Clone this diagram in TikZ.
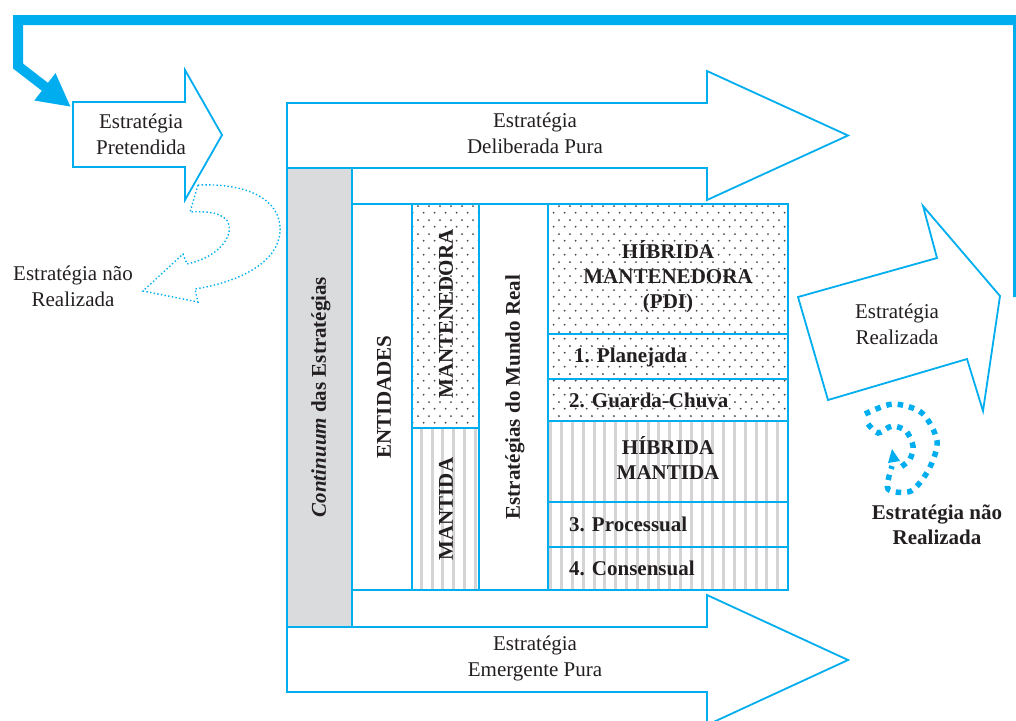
\documentclass[tikz,border=0pt]{standalone}
\usepackage{fontspec}
\setmainfont{Liberation Serif}
\usetikzlibrary{arrows.meta, patterns, patterns.meta}
\definecolor{processcyan}{RGB}{0,174,239}
\definecolor{inkblack}{RGB}{35,31,32}
\definecolor{boxgray}{RGB}{218,219,221}
\definecolor{dotgray}{RGB}{70,70,70}
\definecolor{stripegray}{RGB}{212,212,212}
\pgfdeclarepatternformonly{sparsedots}{\pgfpointorigin}{\pgfpoint{10.8pt}{14pt}}{\pgfpoint{10.8pt}{14pt}}{%
    \pgfpathcircle{\pgfpoint{2.7pt}{3.5pt}}{1.05pt}%
    \pgfpathcircle{\pgfpoint{8.1pt}{10.5pt}}{1.05pt}%
    \pgfusepath{fill}}
\tikzset{
    bigarrow/.style={draw=processcyan, line width=1.8pt, fill=white},
    cell/.style={draw=processcyan, line width=1.8pt},
    dotcell/.style={cell, pattern=sparsedots, pattern color=dotgray},
    stripecell/.style={cell, pattern={Lines[angle=90, distance=10.8pt, line width=3pt]}, pattern color=stripegray},
    feedback/.style={draw=processcyan, line width=10pt, -{Triangle[length=33pt, width=32pt]}},
    lostoutline/.style={draw=processcyan, line width=1.4pt, dash pattern=on 1.4pt off 2.3pt},
    lostcurl/.style={draw=processcyan, line width=5.5pt, dash pattern=on 5.5pt off 6pt},
    lbl/.style={align=center, inner sep=0pt, text=inkblack, font=\fontsize{21}{26}\selectfont},
    blbl/.style={lbl, font=\fontsize{21}{25}\selectfont\bfseries},
}

\begin{document}
\begin{tikzpicture}[x=1pt, y=-1pt, line join=miter]
\useasboundingbox (0,0) rectangle (1016,720);

\draw[bigarrow] (287,627) -- (707,627) -- (707,595) -- (848,660) -- (707,725) -- (707,692) -- (287,692) -- cycle;
\draw[bigarrow] (287,103) -- (707,103) -- (707,71) -- (848,135.5) -- (707,200) -- (707,168) -- (287,168) -- cycle;

\draw[cell, fill=boxgray] (287,168) rectangle (352,627);
\draw[cell] (352,204) rectangle (412,590);
\draw[dotcell] (412,204) rectangle (479,428);
\draw[stripecell] (412,428) rectangle (479,590);
\draw[cell] (479,204) rectangle (548,590);
\draw[dotcell] (548,204) rectangle (788,334);
\draw[dotcell] (548,334) rectangle (788,379);
\draw[dotcell] (548,379) rectangle (788,421);
\draw[stripecell] (548,421) rectangle (788,502);
\draw[stripecell] (548,502) rectangle (788,547);
\draw[stripecell] (548,547) rectangle (788,590);

\draw[bigarrow] (798,297) -- (937,258) -- (923,206) -- (1000,296) -- (983,411) -- (967,359) -- (828,400) -- cycle;

\draw[feedback] (1018,297) -- (1018,20) -- (18,20) -- (18,66) -- (71,107);
\draw[bigarrow] (73,102) -- (185,102) -- (185,70) -- (222,135) -- (185,200) -- (185,167) -- (73,167) -- cycle;

\draw[lostoutline] (198,185) .. controls (245,183) and (282,198) .. (280,232) .. controls (278,262) and (240,282) .. (195,289) -- (198,302) -- (143,291) -- (183,254) -- (187,264) .. controls (215,258) and (232,240) .. (229,225) .. controls (226,212) and (205,211) .. (190,212) -- cycle;

\draw[lostcurl] plot[smooth] coordinates {(865,414) (893,404) (922,413) (937,441) (929,469) (911,491) (888,489) (892,466)};
\draw[lostcurl] plot[smooth] coordinates {(868,424) (878,433) (892,426) (906,431) (913,446) (910,459) (901,467)};
\fill[processcyan] (892,449) -- (900,461) -- (888,463) -- cycle;

\node[lbl] (pretendida) at (141,134) {Estratégia\\Pretendida};
\node[lbl] (deliberada) at (535,133) {Estratégia\\Deliberada Pura};
\node[lbl] (emergente) at (535,658) {Estratégia\\Emergente Pura};
\node[lbl] (realizada) at (897,324) {Estratégia\\Realizada};
\node[lbl] (naorealizada) at (73,286) {Estratégia não\\Realizada};
\node[blbl] (perdida) at (937,525) {Estratégia não\\Realizada};

\node[blbl, rotate=90] (continuum) at (321,397) {\textit{Continuum} das Estratégias};
\node[blbl, rotate=90] (entidades) at (384,397) {ENTIDADES};
\node[blbl, rotate=90] (mantenedora) at (446,314) {MANTENEDORA};
\node[blbl, rotate=90] (mantida) at (446,509) {MANTIDA};
\node[blbl, rotate=90] (mundoreal) at (515,397) {Estratégias do Mundo Real};

\node[blbl] (hibmant) at (668,277) {HÍBRIDA\\MANTENEDORA\\(PDI)};
\node[blbl, anchor=west] (planejada) at (574,357) {1. Planejada};
\node[blbl, anchor=west] (guarda) at (569,400) {2. Guarda-Chuva};
\node[blbl] (hibmantida) at (668,458) {HÍBRIDA\\MANTIDA};
\node[blbl, anchor=west] (processual) at (569,524) {3. Processual};
\node[blbl, anchor=west] (consensual) at (569,568) {4. Consensual};

\end{tikzpicture}
\end{document}
